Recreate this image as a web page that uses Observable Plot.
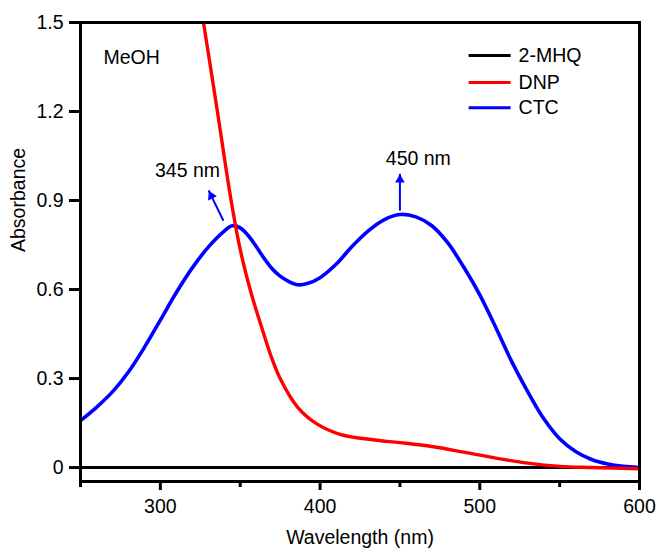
<!DOCTYPE html>
<html>
<head>
<meta charset="utf-8">
<script src="https://cdn.jsdelivr.net/npm/d3@7"></script>
<script src="https://cdn.jsdelivr.net/npm/@observablehq/plot@0.6"></script>
<style>
  html, body { margin: 0; padding: 0; background: white; }
</style>
</head>
<body>
<div id="chart"></div>
<script>
// ---- Data ----
const wavelengthCTC = [250,260,270,280,290,300,310,320,330,340,345,350,355,360,365,370,375,380,386,392,400,410,420,430,440,450,460,470,480,490,500,510,520,530,540,550,560,570,580,590,600];
const absorbanceCTC = [0.158,0.203,0.255,0.322,0.405,0.497,0.590,0.673,0.743,0.797,0.815,0.808,0.782,0.745,0.705,0.670,0.645,0.628,0.616,0.620,0.640,0.685,0.745,0.797,0.835,0.853,0.845,0.815,0.757,0.675,0.582,0.472,0.357,0.256,0.165,0.097,0.054,0.027,0.012,0.004,0.000];

const wavelengthDNP = [318,327,336,344,350,357,363,369,375,386,398,413,434,450,470,490,510,530,550,570,600];
const absorbanceDNP = [1.80,1.50,1.19,0.91,0.735,0.585,0.48,0.38,0.30,0.203,0.147,0.111,0.093,0.084,0.071,0.052,0.032,0.015,0.004,0.000,-0.004];

const wavelengthMHQ = [250,300,350,400,450,500,550,600];
const absorbanceMHQ = [0,0,0,0,0,0,0,0];

const seriesNames = ["2-MHQ", "DNP", "CTC"];
const seriesColors = ["#000000", "#ff0000", "#0000ff"];

const xMajorTicks = [300, 400, 500, 600];
const xMinorTicks = [250, 350, 450, 550];
const yTicks = [0, 0.3, 0.6, 0.9, 1.2, 1.5];

// annotation anchors (data units)
const peakLabels = ["345 nm", "450 nm"];
const peakLabelX = [317, 461.5];
const peakLabelY = [1.0, 1.04];
const arrowFromX = [339.5, 450];
const arrowFromY = [0.832, 0.866];
const arrowToX = [330.2, 450];
const arrowToY = [0.934, 0.99];

const legendX1 = 493, legendX2 = 519.3, legendTextX = 524.3;
const legendY = [1.389, 1.298, 1.213];
const solventLabel = "MeOH";
const solventX = 264.4, solventY = 1.382;

// ---- Layout ----
const W = 657, H = 549;
const mL = 80, mR = 18, mT = 22, mB = 68;
const xDomain = [250, 600], yDomain = [-0.047, 1.5];

const toRows = (xs, ys) => xs.map((x, i) => ({x, y: ys[i]}));
const ctc = toRows(wavelengthCTC, absorbanceCTC);
const dnp = toRows(wavelengthDNP, absorbanceDNP);
const mhq = toRows(wavelengthMHQ, absorbanceMHQ);

const sx = (W - mL - mR) / (xDomain[1] - xDomain[0]);
const sy = (H - mT - mB) / (yDomain[1] - yDomain[0]);
const arrows = arrowFromX.map((_, i) => {
  const dxp = (arrowToX[i] - arrowFromX[i]) * sx;
  const dyp = -(arrowToY[i] - arrowFromY[i]) * sy;
  const len = Math.hypot(dxp, dyp);
  const ux = dxp / len, uy = dyp / len;
  return {
    x1: arrowFromX[i], y1: arrowFromY[i], x2: arrowToX[i], y2: arrowToY[i],
    rot: Math.atan2(ux, -uy) * 180 / Math.PI,
    ox: -ux * 6, oy: -uy * 6
  };
});
const labels = peakLabels.map((t, i) => ({t, x: peakLabelX[i], y: peakLabelY[i]}));
const legend = seriesNames.map((n, i) => ({n, c: seriesColors[i], y: legendY[i]}));

const chart = Plot.plot({
  width: W, height: H,
  marginLeft: mL, marginRight: mR, marginTop: mT, marginBottom: mB,
  x: {domain: xDomain, label: null},
  y: {domain: yDomain, label: null},
  style: {fontFamily: "'Liberation Sans', Arial, sans-serif", fontSize: "19.5px", color: "black", background: "white"},
  marks: [
    Plot.axisY({ticks: yTicks, tickSize: 11, tickPadding: 6, strokeWidth: 3, label: null,
      tickFormat: d => d === 0 ? "0" : d.toFixed(1)}),
    Plot.axisX({ticks: xMajorTicks, tickSize: 9, tickPadding: 9, strokeWidth: 3, label: null,
      tickFormat: d => String(d)}),
    Plot.axisX({ticks: xMinorTicks, tickSize: 6, strokeWidth: 3, label: null, tickFormat: () => ""}),
    Plot.line(mhq, {x: "x", y: "y", stroke: seriesColors[0], strokeWidth: 3, clip: true}),
    Plot.line(ctc, {x: "x", y: "y", stroke: seriesColors[2], strokeWidth: 3.6, curve: "catmull-rom", clip: true}),
    Plot.line(dnp, {x: "x", y: "y", stroke: seriesColors[1], strokeWidth: 3.4, curve: "catmull-rom", clip: true}),
    Plot.frame({stroke: "black", strokeWidth: 3}),
    // arrows
    Plot.link(arrows, {x1: "x1", y1: "y1", x2: "x2", y2: "y2", stroke: "#0000ff", strokeWidth: 2}),
    ...arrows.map(a => Plot.dot([a], {x: "x2", y: "y2", symbol: "triangle", r: 3.6, fill: "#0000ff",
      stroke: "none", rotate: a.rot, dx: a.ox, dy: a.oy})),
    Plot.text(labels, {x: "x", y: "y", text: "t", fill: "black"}),
    // legend
    Plot.link(legend, {x1: () => legendX1, x2: () => legendX2, y1: "y", y2: "y", stroke: "c", strokeWidth: 3}),
    Plot.text(legend, {x: () => legendTextX, y: "y", text: "n", textAnchor: "start", fill: "black"}),
    Plot.text([solventLabel], {x: () => solventX, y: () => solventY, text: d => d, textAnchor: "start", fill: "black"}),
    // axis titles
    Plot.text(["Wavelength (nm)"], {frameAnchor: "bottom", dy: 56, text: d => d, lineAnchor: "middle", fill: "black"}),
    Plot.text(["Absorbance"], {frameAnchor: "left", dx: -62, rotate: -90, text: d => d, lineAnchor: "middle", fill: "black"})
  ]
});
document.getElementById("chart").appendChild(chart);
</script>
</body>
</html>
